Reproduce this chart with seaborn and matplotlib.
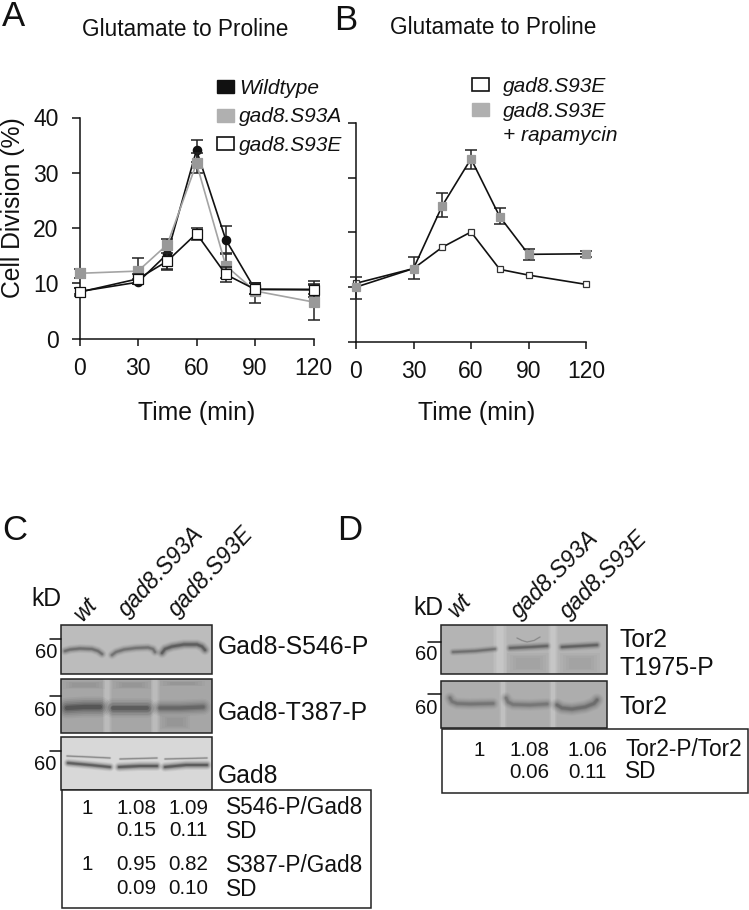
import numpy as np
import pandas as pd
import seaborn as sns
import matplotlib
matplotlib.use("Agg")
import matplotlib.pyplot as plt
from matplotlib.patches import Rectangle, Patch

# ---------- data ----------
times = [0, 30, 45, 60, 75, 90, 120]
time_ticks = [0, 30, 60, 90, 120]
y_ticks = [0, 10, 20, 30, 40]

wt_vals = [8.5, 10.2, 15.3, 34.1, 17.9, 8.9, 8.9]
wt_low = [8.0, 9.8, 12.5, 32.0, 15.4, 8.0, 7.5]
wt_high = [9.2, 10.8, 16.0, 36.0, 20.3, 10.0, 10.4]
s93a_vals = [11.8, 12.2, 17.0, 31.7, 13.2, 8.6, 6.6]
s93a_low = [11.0, 9.8, 16.0, 29.9, 11.0, 6.5, 3.3]
s93a_high = [12.5, 14.6, 18.0, 33.5, 15.3, 10.0, 9.9]
s93e_vals = [8.4, 10.8, 14.0, 19.0, 11.6, 8.9, 8.8]
s93e_low = [7.7, 10.0, 12.4, 17.8, 10.3, 8.0, 8.0]
s93e_high = [9.1, 11.6, 15.5, 20.0, 13.0, 10.0, 9.6]

b_e_vals = [10.7, 13.4, 17.3, 20.1, 13.25, 12.2, 10.5]
b_rap_vals = [10.0, 13.4, 24.9, 33.5, 22.9, 16.0, 16.1]
b_rap_low = [7.8, 11.5, 22.8, 31.6, 21.5, 15.0, 15.6]
b_rap_high = [11.9, 15.5, 27.3, 35.2, 24.5, 17.0, 16.7]

title_text = "Glutamate to Proline"
lane_labels = ["wt", "gad8.S93A", "gad8.S93E"]

# table text
c_rows = [["1", "1.08", "1.09", "S546-P/Gad8"],
          ["", "0.15", "0.11", "SD"],
          ["1", "0.95", "0.82", "S387-P/Gad8"],
          ["", "0.09", "0.10", "SD"]]
d_rows = [["1", "1.08", "1.06", "Tor2-P/Tor2"],
          ["", "0.06", "0.11", "SD"]]

# blot panels: frame (x0, y0, x1, y1), grey background, band paths in picture pixels
blots = [
    dict(frame=(61, 625, 211.5, 674), bg="#bcbcbc",
         gaps=[], haze=[],
         bands=[([65, 70, 80, 92, 98, 102], [651, 649.5, 648.5, 649, 651, 654], 3.0, "#444444"),
                ([112, 116, 124, 136, 148, 153, 155], [655, 652, 649.5, 648, 647.5, 649, 652], 3.0, "#4a4a4a"),
                ([162, 165, 172, 184, 197, 202, 205], [653, 649, 646.5, 644.5, 644.5, 646.5, 650], 3.5, "#2a2a2a")]),
    dict(frame=(61, 679, 211.5, 733), bg="#a6a6a6",
         gaps=[(107, 9), (155, 9)],
         haze=[(63, 681, 42, 8), (113, 681, 38, 8), (160, 681, 45, 5), (160, 715, 30, 14)],
         bands=[([67, 84, 100], [708, 707, 707], 7.0, "#2a2a2a"),
                ([113, 130, 147], [708, 708, 708], 6.5, "#333333"),
                ([160, 180, 203], [708, 708, 707], 5.5, "#444444")]),
    dict(frame=(61, 737, 211.5, 790), bg="#d8d8d8",
         gaps=[], haze=[],
         bands=[([67, 90, 110], [756, 757, 758], 1.0, "#555555"),
                ([120, 157], [759, 758], 1.0, "#555555"),
                ([165, 207], [759, 758], 1.0, "#555555"),
                ([68, 90, 110], [763, 765, 767], 3.0, "#1a1a1a"),
                ([119, 140, 157], [767, 766, 766], 3.3, "#161616"),
                ([165, 186, 207], [767, 765, 765], 3.3, "#161616")]),
    dict(frame=(441, 625, 607, 674), bg="#b4b4b4",
         gaps=[(500, 14), (553, 10)],
         haze=[(507, 653, 42, 20), (560, 653, 40, 20)],
         bands=[([453, 475, 495], [652, 651, 649], 2.6, "#4a4a4a"),
                ([510, 530, 547], [648, 647, 646], 3.0, "#3a3a3a"),
                ([562, 580, 597], [647, 646, 645], 3.0, "#333333"),
                ([517, 522, 527, 534, 540], [638, 640.5, 642, 640.5, 637], 0.7, "#666666")]),
    dict(frame=(441, 681, 607, 728), bg="#adadad",
         gaps=[(503, 8), (553, 8)], haze=[],
         bands=[([450, 452, 457, 470, 493], [698, 701.5, 703.5, 704, 703.5], 4.0, "#555555"),
                ([506, 508, 513, 530, 547], [698, 702, 704.5, 705, 704], 4.0, "#5a5a5a"),
                ([557, 562, 572, 585, 594, 597], [705, 708, 709, 707, 703.5, 700], 4.5, "#4a4a4a")]),
]
size_marks = [((50, 61), 638.5, 57, 653), ((50, 61), 696, 56, 710), ((50, 61), 751, 56, 764),
              ((428, 441), 642, 437, 655), ((428, 441), 694, 437, 709)]
blot_labels = [("Gad8-S546-P", 218, 647), ("Gad8-T387-P", 218, 713), ("Gad8", 218, 776),
               ("Tor2", 620, 640), ("T1975-P", 620, 668), ("Tor2", 620, 707)]

# ---------- style ----------
sns.set_theme(style="ticks")
FONT = ["Liberation Sans", "DejaVu Sans"]
plt.rcParams["font.family"] = FONT
W, H = 749, 910
fig = plt.figure(figsize=(W / 100, H / 100), dpi=100, facecolor="white")


def axes_px(x0, y0, x1, y1):
    return fig.add_axes([x0 / W, 1 - y1 / H, (x1 - x0) / W, (y1 - y0) / H])


def style_axes(ax, labels_y):
    ax.set_xlim(0, 120)
    ax.set_ylim(0, 40)
    ax.set_facecolor("none")
    sns.despine(ax=ax)
    for s in ("left", "bottom"):
        ax.spines[s].set_linewidth(1.1)
        ax.spines[s].set_color("#111111")
    ax.set_xticks(time_ticks)
    ax.set_yticks(y_ticks)
    ax.tick_params(axis="x", length=5, width=1.1, labelsize=16.5, pad=8, color="#111111", labelcolor="#111111")
    ax.tick_params(axis="y", length=6, width=1.1, labelsize=16.5, pad=9, color="#111111", labelcolor="#111111")
    if not labels_y:
        ax.set_yticklabels([])
    ax.set_xlabel("")
    ax.set_ylabel("")


def series(ax, vals, line, mfc, mec, marker, ms, low=None, high=None, lw=1.2, z=3):
    if low is not None:
        v, l, h = np.array(vals), np.array(low), np.array(high)
        ax.errorbar(times, vals, yerr=[v - l, h - v], fmt="none", ecolor="#222222",
                    elinewidth=1.1, capsize=4.2, capthick=1.1, clip_on=False, zorder=z)
    df = pd.DataFrame({"Time": times, "Value": vals})
    sns.lineplot(data=df, x="Time", y="Value", ax=ax, color=line, lw=lw, errorbar=None,
                 marker=marker, markersize=ms, markerfacecolor=mfc, markeredgecolor=mec,
                 markeredgewidth=0.9, clip_on=False, zorder=z + 0.5)


# ---------- panel A ----------
axA = axes_px(79.5, 117.5, 313.5, 338.5)
series(axA, wt_vals, "#111111", "#111111", "#111111", "o", 6, wt_low, wt_high, z=3)
series(axA, s93a_vals, "#a4a4a4", "#999999", "#999999", "s", 6.8, s93a_low, s93a_high, z=4)
series(axA, s93e_vals, "#111111", "white", "#111111", "s", 6.5, s93e_low, s93e_high, z=5)
style_axes(axA, True)
axA.legend(handles=[Patch(fc="#111111", ec="#111111", label="Wildtype"),
                    Patch(fc="#b0b0b0", ec="#b0b0b0", label="gad8.S93A"),
                    Patch(fc="white", ec="#111111", lw=1.2, label="gad8.S93E")],
           loc="upper left", bbox_to_anchor=(217 / W, 1 - 79 / H), bbox_transform=fig.transFigure,
           frameon=False, prop=dict(style="italic", size=15), borderpad=0, borderaxespad=0,
           handlelength=0.83, handleheight=0.58, handletextpad=0.24, labelspacing=0.45,
           labelcolor="#111111")

# ---------- panel B ----------
axB = axes_px(356, 123.3, 586, 341.7)
series(axB, b_e_vals, "#111111", "white", "#333333", "s", 5, z=3)
series(axB, b_rap_vals, "#111111", "#999999", "#999999", "s", 6.2, b_rap_low, b_rap_high, z=4)
style_axes(axB, False)
axB.legend(handles=[Patch(fc="white", ec="#111111", lw=1.2, label="gad8.S93E"),
                    Patch(fc="#b0b0b0", ec="#b0b0b0", label="gad8.S93E"),
                    Patch(fc="none", ec="none", label="+ rapamycin")],
           loc="upper left", bbox_to_anchor=(472 / W, 1 - 77 / H), bbox_transform=fig.transFigure,
           frameon=False, prop=dict(style="italic", size=15), borderpad=0, borderaxespad=0,
           handlelength=0.8, handleheight=0.58, handletextpad=0.7, labelspacing=0.27,
           labelcolor="#111111")

# ---------- overlay in picture pixels ----------
ov = fig.add_axes([0, 0, 1, 1], zorder=10)
ov.set_xlim(0, W)
ov.set_ylim(H, 0)
ov.axis("off")
ov.patch.set_alpha(0)


def txt(x, y, s, size=17.8, ha="center", va="center", **kw):
    ov.text(x, y, s, fontsize=size, ha=ha, va=va, color="#111111", **kw)


for s, x, y in [("A", 14, 16), ("B", 346, 20), ("C", 15, 531), ("D", 350, 531)]:
    txt(x, y, s, size=25)
txt(185, 29, title_text, size=16.3)
txt(493, 28, title_text, size=16.3)
txt(13, 208, "Cell Division (%)", rotation=90)
txt(197, 413, "Time (min)")
txt(477, 413, "Time (min)")

# blots
LAYERS = ((3.0, 0.05), (2.5, 0.07), (2.0, 0.10), (1.5, 0.14), (1.0, 0.22), (0.6, 0.30))
for b in blots:
    x0, y0, x1, y1 = b["frame"]
    clip = Rectangle((x0, y0), x1 - x0, y1 - y0, fc=b["bg"], ec="none", zorder=1)
    ov.add_patch(clip)
    for gx, gw in b["gaps"]:
        for k, a in ((1.0, 0.06), (0.8, 0.07), (0.6, 0.08), (0.4, 0.08)):
            ov.add_patch(Rectangle((gx - gw * k / 2, y0), gw * k, y1 - y0, fc="white", ec="none",
                                   alpha=a, zorder=1.2, lw=0))
    for hx, hy, hw, hh in b["haze"]:
        for k, a in ((1.0, 0.03), (0.85, 0.03), (0.7, 0.03), (0.55, 0.03)):
            p = Rectangle((hx + hw * (1 - k) / 2, hy + hh * (1 - k) / 2), hw * k, hh * k,
                          fc="#333333", ec="none", alpha=a, zorder=1.4, lw=0)
            ov.add_patch(p)
            p.set_clip_path(clip)
    for xs, ys, w, col in b["bands"]:
        for mult, a in LAYERS:
            ln, = ov.plot(xs, ys, color=col, lw=w * mult * 0.72, alpha=a, zorder=2,
                          solid_capstyle="round", solid_joinstyle="round")
            ln.set_clip_path(clip)
    ov.add_patch(Rectangle((x0, y0), x1 - x0, y1 - y0, fc="none", ec="#222222", lw=1.1, zorder=3))

for (mx0, mx1), my, tx, ty in size_marks:
    ov.plot([mx0, mx1], [my, my], color="#111111", lw=1.1, zorder=3)
    txt(tx, ty, "60", size=14.5, ha="right")
for s, x, y in blot_labels:
    txt(x, y, s, ha="left")
txt(31, 599, "kD", ha="left")
txt(413, 608, "kD", ha="left")

# lane labels
for x, y, s, rot in [(83, 622, lane_labels[0], 47), (127, 618, lane_labels[1], 47), (177, 618, lane_labels[2], 47),
                     (457, 618, lane_labels[0], 47), (519, 619, lane_labels[1], 45), (568, 619, lane_labels[2], 45)]:
    txt(x, y, s, size=16.5, ha="left", va="baseline", rotation=rot, rotation_mode="anchor", style="italic")

# tables
ov.add_patch(Rectangle((62, 790), 308.5, 118, fc="white", ec="#222222", lw=1.1, zorder=4))
ov.add_patch(Rectangle((441.5, 729), 306, 64, fc="white", ec="#222222", lw=1.1, zorder=4))
for row, y in zip(c_rows, [808, 831, 865, 889]):
    for val, x in zip(row[:3], [87, 136, 188]):
        txt(x, y, val, size=14.8, zorder=5)
    txt(226, y, row[3], size=16.3, ha="left", zorder=5)
for row, y in zip(d_rows, [750, 772]):
    for val, x in zip(row[:3], [479, 529, 587]):
        txt(x, y, val, size=14.8, zorder=5)
    txt(625, y, row[3], size=16.3, ha="left", zorder=5)

fig.savefig("out.png", dpi=100, facecolor="white")
